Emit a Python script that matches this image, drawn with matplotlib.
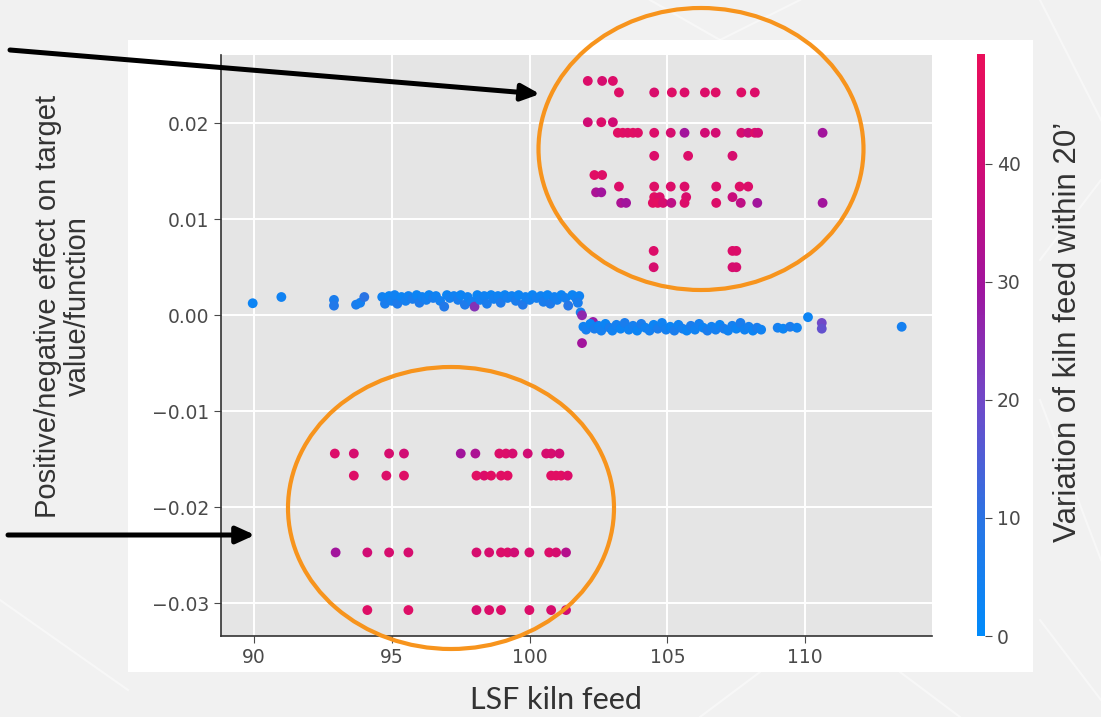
import matplotlib
matplotlib.use("Agg")
import matplotlib.pyplot as plt
from matplotlib.colors import LinearSegmentedColormap
from matplotlib.patches import Ellipse, Rectangle

# --- data ---

# points around zero (blue band), x / shap value / colour feature
zero_x = [89.95, 90.99, 92.9, 92.9, 93.7, 93.85, 94.0,
          94.65, 94.75, 94.9, 95.0, 95.1, 95.2, 95.35, 95.5, 95.6, 95.75, 95.9, 96.0,
          96.1, 96.25, 96.35, 96.5, 96.6, 96.75, 96.9, 97.0, 97.1, 97.25, 97.4, 97.5,
          97.65, 97.75, 97.9, 98.0, 98.1, 98.2, 98.35, 98.45, 98.6, 98.7, 98.85, 98.95,
          99.1, 99.2, 99.35, 99.5, 99.6, 99.75, 99.85, 100.0, 100.1, 100.25, 100.4,
          100.5, 100.65, 100.75, 100.9, 101.0, 101.15, 101.3, 101.4, 101.55, 101.7, 101.8]
zero_y = [0.00125, 0.0019, 0.0016, 0.0010, 0.0011, 0.0013, 0.0019,
          0.0019, 0.0012, 0.0020, 0.0015, 0.0021, 0.0012, 0.0019, 0.0015, 0.0020, 0.0017, 0.0021, 0.0013,
          0.0019, 0.0016, 0.0021, 0.0018, 0.0020, 0.0015, 0.0009, 0.0021, 0.0018, 0.0020, 0.0016, 0.0021,
          0.0011, 0.0019, 0.0014, 0.0009, 0.0021, 0.0016, 0.0020, 0.0012, 0.0021, 0.0017, 0.0020, 0.0013,
          0.0021, 0.0018, 0.0020, 0.0015, 0.0021, 0.0011, 0.0019, 0.0016, 0.0021, 0.0018, 0.0020,
          0.0014, 0.0021, 0.0012, 0.0019, 0.0016, 0.0021, 0.0018, 0.0010, 0.0021, 0.0017, 0.0020]
zero_c = [3, 4, 6, 8, 6, 5, 10,
          4, 6, 3, 5, 4, 7, 3, 5, 4, 6, 3, 7,
          4, 5, 3, 6, 4, 5, 8, 3, 5, 4, 6, 3,
          7, 4, 5, 24, 3, 5, 4, 6, 3, 5, 4, 7,
          3, 5, 4, 6, 3, 8, 4, 5, 3, 5, 4,
          6, 3, 7, 4, 5, 3, 5, 9, 3, 5, 4]

step_x = [101.75, 101.85, 101.9, 101.9, 102.3,
          101.95, 102.05, 102.2, 102.35, 102.5, 102.6, 102.75, 102.9, 103.0, 103.15, 103.3,
          103.45, 103.6, 103.75, 103.9, 104.05, 104.2, 104.35, 104.5, 104.65, 104.8, 104.95,
          105.1, 105.25, 105.4, 105.55, 105.7, 105.85, 106.0, 106.15, 106.3, 106.45, 106.6,
          106.75, 106.9, 107.05, 107.2, 107.35, 107.5, 107.65, 107.8, 107.95, 108.1, 108.25,
          108.4, 109.0, 109.2, 109.45, 109.7, 110.1, 110.6, 110.6, 113.5]
step_y = [0.0013, 0.0003, 0.0000, -0.0029, -0.0007,
          -0.0012, -0.0015, -0.0009, -0.0014, -0.0011, -0.0016, -0.0009, -0.0013, -0.0016, -0.0010, -0.0014,
          -0.0008, -0.0015, -0.0011, -0.0016, -0.0009, -0.0013, -0.0016, -0.0010, -0.0014, -0.0008, -0.0015,
          -0.0012, -0.0016, -0.0010, -0.0014, -0.0016, -0.0011, -0.0015, -0.0009, -0.0013, -0.0016, -0.0012,
          -0.0015, -0.0010, -0.0014, -0.0016, -0.0011, -0.0014, -0.0008, -0.0015, -0.0012, -0.0016, -0.0013,
          -0.0015, -0.0013, -0.0014, -0.0012, -0.0013, -0.0002, -0.0008, -0.0014, -0.0012]
step_c = [6, 5, 26, 30, 28,
          4, 5, 3, 6, 4, 5, 3, 6, 4, 5, 3,
          6, 4, 5, 3, 6, 4, 5, 3, 6, 4, 5,
          3, 6, 4, 5, 3, 6, 4, 5, 3, 6, 4,
          5, 3, 6, 4, 5, 3, 6, 4, 5, 3, 6,
          4, 5, 3, 6, 4, 3, 20, 18, 5]

# upper cluster rows: (shap value, x values, colour values)
upper_rows = [
    (0.0244, [102.11, 102.63, 103.02], [44, 42, 44]),
    (0.0232, [103.24, 104.52, 105.16, 105.62, 106.36, 106.75, 107.68, 108.17],
     [45, 43, 45, 44, 44, 45, 45, 44]),
    (0.0201, [102.11, 102.6, 103.02], [40, 44, 40]),
    (0.0190, [103.2, 103.38, 103.56, 103.75, 103.93, 104.52, 105.12, 105.62, 106.36,
              106.75, 107.68, 107.93, 108.17, 108.29, 110.63],
     [46, 46, 45, 46, 45, 44, 42, 30, 40, 41, 42, 38, 44, 40, 30]),
    (0.0166, [104.52, 105.75, 107.36], [44, 44, 42]),
    (0.0146, [102.35, 102.63], [46, 45]),
    (0.0134, [103.24, 104.52, 105.12, 105.62, 106.77, 107.62, 107.93], [44, 45, 44, 44, 44, 45, 44]),
    (0.0128, [102.41, 102.6], [32, 30]),
    (0.0123, [104.52, 104.72, 105.68, 107.36], [46, 44, 43, 38]),
    (0.0117, [103.32, 103.5, 104.47, 104.65, 104.84, 105.14, 105.62, 106.77, 107.66, 108.26, 110.63],
     [32, 30, 46, 47, 42, 36, 44, 44, 36, 30, 30]),
    (0.0067, [104.5, 107.36, 107.5], [44, 44, 44]),
    (0.0050, [104.5, 107.36, 107.5], [42, 42, 42]),
]

# lower cluster rows
lower_rows = [
    (-0.0144, [92.93, 93.62, 94.9, 95.44, 97.5, 98.03, 98.9, 99.14, 99.38, 99.93, 100.6, 100.78, 101.08],
     [44, 42, 42, 40, 30, 32, 44, 44, 42, 40, 42, 42, 40]),
    (-0.0167, [93.62, 94.8, 95.44, 98.07, 98.35, 98.6, 98.96, 99.2, 100.78, 100.96, 101.14, 101.38],
     [45, 44, 45, 46, 44, 46, 46, 46, 46, 46, 46, 44]),
    (-0.0247, [92.96, 94.11, 94.9, 95.6, 98.07, 98.53, 98.96, 99.2, 99.44, 99.99, 100.71, 100.96, 101.32],
     [30, 40, 42, 42, 42, 42, 44, 44, 40, 42, 44, 42, 34]),
    (-0.0307, [94.11, 95.6, 98.07, 98.53, 98.96, 99.99, 100.78, 101.32],
     [45, 45, 42, 44, 44, 44, 42, 40]),
]

x_ticks = [90, 95, 100, 105, 110]
y_ticks = [-0.03, -0.02, -0.01, 0.00, 0.01, 0.02]
cbar_ticks = [0, 10, 20, 30, 40]

# --- build point lists ---
xs = list(zero_x) + list(step_x)
ys = list(zero_y) + list(step_y)
cs = list(zero_c) + list(step_c)
for yv, xr, cr in upper_rows + lower_rows:
    xs += xr
    ys += [yv] * len(xr)
    cs += cr

# shap-like red/blue colormap (toned like the slide)
red_blue = LinearSegmentedColormap.from_list(
    "red_blue", ["#008bfb", "#2a74e4", "#6f49c9", "#a0149e", "#cf0c76", "#ea0f5a"])

fig = plt.figure(figsize=(11.01, 7.17), dpi=100)
fig.patch.set_facecolor("#f1f1f1")

# faint network lines of the slide background
bg = fig.add_axes([0, 0, 1, 1], facecolor="none", zorder=-10)
bg.set_xlim(0, 1101)
bg.set_ylim(717, 0)
bg.axis("off")
for (x0, y0, x1, y1) in [(650, 0, 720, 40), (720, 40, 800, 0), (1040, 0, 1101, 120),
                         (1040, 260, 1101, 180), (1040, 400, 1101, 560), (1040, 620, 1101, 700),
                         (700, 717, 760, 672), (900, 672, 960, 717), (0, 600, 128, 690)]:
    bg.plot([x0, x1], [y0, y1], color="white", linewidth=1.5, alpha=0.45)

# white panel behind the chart
fig.patches.append(Rectangle((128 / 1101, 45 / 717), 905 / 1101, 632 / 717,
                             transform=fig.transFigure, facecolor="white",
                             edgecolor="none", zorder=-5))

ax = fig.add_axes([221 / 1101, 81 / 717, 711 / 1101, 581 / 717])
ax.set_facecolor("#e5e5e5")
ax.grid(True, color="white", linewidth=1.4)
ax.set_axisbelow(True)
sc = ax.scatter(xs, ys, c=cs, cmap=red_blue, vmin=0, vmax=49.3, s=50, linewidths=0, zorder=3)
ax.set_xlim(88.8, 114.6)
ax.set_ylim(-0.0334, 0.0271)
ax.set_xticks(x_ticks)
ax.set_yticks(y_ticks)
ax.set_yticklabels(["\u22120.03", "\u22120.02", "\u22120.01", "0.00", "0.01", "0.02"])
for s in ["top", "right"]:
    ax.spines[s].set_visible(False)
for s in ["left", "bottom"]:
    ax.spines[s].set_color("#333333")
    ax.spines[s].set_linewidth(1.2)
ax.tick_params(colors="#4a4a4a", labelsize=13.5, length=5, direction="out")

cax = fig.add_axes([977 / 1101, 81 / 717, 8 / 1101, 582 / 717])
cb = fig.colorbar(sc, cax=cax, ticks=cbar_ticks)
cb.outline.set_visible(False)
cax.tick_params(colors="#4a4a4a", labelsize=13.5, length=5)

# axis titles as on the slide
fig.text(1068 / 1101, 1 - 332 / 717, "Variation of kiln feed within 20\u2019", rotation=90,
         ha="center", va="center", fontsize=22.5, family="Liberation Sans", color="#333333")
fig.text(63 / 1101, 1 - 306 / 717, "Positive/negative effect on target\nvalue/function",
         rotation=90, ha="center", va="center", fontsize=21, family="Liberation Sans",
         color="#333333", linespacing=1.1)
fig.text(556 / 1101, 1 - 700 / 717, "LSF kiln feed", ha="center", va="center",
         fontsize=22, family="Lato", color="#333333")

# overlay in pixel coordinates for the annotations
ov = fig.add_axes([0, 0, 1, 1], facecolor="none")
ov.set_xlim(0, 1101)
ov.set_ylim(717, 0)
ov.axis("off")
orange = "#f7941d"
ov.add_patch(Ellipse((701, 149), 325, 282, fill=False, edgecolor=orange, linewidth=3))
ov.add_patch(Ellipse((451, 508), 326, 282, fill=False, edgecolor=orange, linewidth=3))
arrow = dict(arrowstyle="-|>,head_length=1.1,head_width=0.5", color="black", linewidth=3.6,
             shrinkA=0, shrinkB=0)
ov.annotate("", xy=(540, 94), xytext=(10, 50), arrowprops=arrow)
ov.annotate("", xy=(255, 535), xytext=(8, 535), arrowprops=arrow)

fig.savefig("out.png", dpi=100, facecolor=fig.get_facecolor())
